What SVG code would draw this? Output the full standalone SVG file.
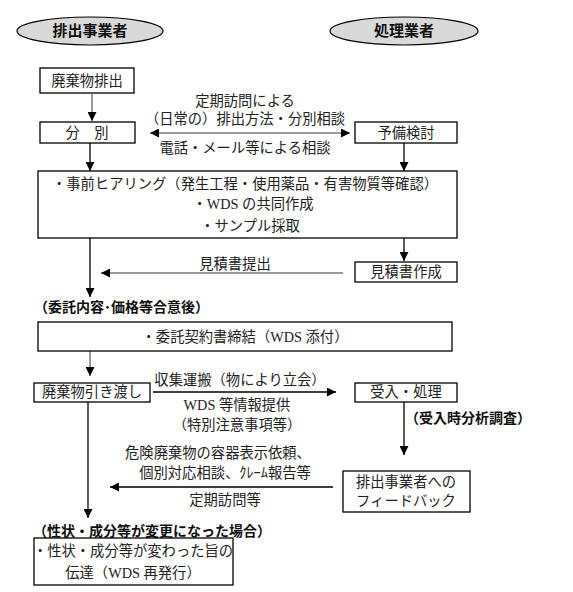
<svg xmlns="http://www.w3.org/2000/svg" width="573" height="592" viewBox="0 0 573 592">
<style>
.bg{fill:#fff}
.box{fill:#fff;stroke:#000;stroke-width:1.3}
.ell{fill:#d9d9d9;stroke:#000;stroke-width:1.2}
.t{font-family:"Liberation Serif","Noto Sans CJK JP",serif;font-size:14.3px;fill:#222}
.c{text-anchor:middle}
.b{font-family:"Liberation Sans","Noto Sans CJK JP",sans-serif;font-weight:bold;font-size:14px;fill:#111}
.h{font-family:"Liberation Sans","Noto Sans CJK JP",sans-serif;font-weight:bold;font-size:15px;fill:#111;text-anchor:middle}
.k{stroke:#000;stroke-width:1.3;fill:none}
.g{stroke:#9a9a9a;stroke-width:2;fill:none}
</style>
<defs>
<marker id="ah" viewBox="0 0 10 10" refX="10" refY="5" markerWidth="9" markerHeight="9" markerUnits="userSpaceOnUse" orient="auto-start-reverse">
<path d="M0,0 L10,5 L0,10 z" fill="#000"/>
</marker>
</defs>
<rect class="bg" width="573" height="592"/>
<g id="connectors">
<line class="g" x1="92" y1="94" x2="92" y2="121" marker-end="url(#ah)"/>
<line class="g" x1="150" y1="133" x2="350" y2="133" marker-start="url(#ah)" marker-end="url(#ah)"/>
<line class="k" x1="90" y1="143" x2="90" y2="171" marker-end="url(#ah)"/>
<line class="k" x1="404" y1="143" x2="404" y2="171" marker-end="url(#ah)"/>
<line class="k" x1="404" y1="238" x2="404" y2="261" marker-end="url(#ah)"/>
<line class="g" x1="343" y1="273" x2="101" y2="273" marker-end="url(#ah)"/>
<line class="k" x1="90" y1="238" x2="90" y2="297" marker-end="url(#ah)"/>
<line class="g" x1="90" y1="351" x2="90" y2="376" marker-end="url(#ah)"/>
<line class="k" x1="153" y1="392" x2="336" y2="392" marker-end="url(#ah)"/>
<line class="k" x1="404" y1="402" x2="404" y2="455" marker-end="url(#ah)"/>
<line class="k" x1="333" y1="487" x2="110" y2="487" marker-end="url(#ah)"/>
<line class="k" x1="88" y1="402" x2="88" y2="518" marker-end="url(#ah)"/>
<text class="t c" x="245" y="106">定期訪問による</text>
<text class="t c" x="245" y="124">（日常の）排出方法・分別相談</text>
<text class="t c" x="245" y="153">電話・メール等による相談</text>
<text class="t c" x="235" y="269">見積書提出</text>
<text class="t c" x="240" y="385">収集運搬（物により立会）</text>
<text class="t c" x="237" y="410">WDS 等情報提供</text>
<text class="t c" x="237" y="430">（特別注意事項等）</text>
<text class="b" x="405" y="423">（受入時分析調査）</text>
<text class="t c" x="218" y="458">危険廃棄物の容器表示依頼、</text>
<text class="t c" x="225" y="478">個別対応相談、ｸﾚｰﾑ報告等</text>
<text class="t c" x="225" y="505">定期訪問等</text>
<text class="b" x="34" y="312">（委託内容･価格等合意後）</text>
<text class="b" x="33" y="536">（性状・成分等が変更になった場合）</text>
</g>
<g id="n-haishutsu">
<ellipse class="ell" cx="90" cy="31" rx="73" ry="14"/>
<text class="h" x="90" y="36">排出事業者</text>
</g>
<g id="n-shori">
<ellipse class="ell" cx="404" cy="31" rx="74" ry="14"/>
<text class="h" x="404" y="36">処理業者</text>
</g>
<g id="n-haikibutsu">
<rect class="box" x="40" y="68" width="94" height="25"/>
<text class="t c" x="87" y="86">廃棄物排出</text>
</g>
<g id="n-bunbetsu">
<rect class="box" x="40" y="122" width="95" height="21"/>
<text class="t c" x="87" y="138">分　別</text>
</g>
<g id="n-yobi">
<rect class="box" x="355" y="122" width="102" height="21"/>
<text class="t c" x="406" y="138">予備検討</text>
</g>
<g id="n-jizen">
<rect class="box" x="38" y="171" width="419" height="67"/>
<text class="t c" x="245" y="189">・事前ヒアリング（発生工程・使用薬品・有害物質等確認）</text>
<text class="t c" x="253" y="209">・WDS の共同作成</text>
<text class="t c" x="250" y="231">・サンプル採取</text>
</g>
<g id="n-mitsumori">
<rect class="box" x="355" y="262" width="102" height="20"/>
<text class="t c" x="406" y="277">見積書作成</text>
</g>
<g id="n-keiyaku">
<rect class="box" x="38" y="322" width="414" height="29"/>
<text class="t c" x="245" y="342">・委託契約書締結（WDS 添付）</text>
</g>
<g id="n-hikiwatashi">
<rect class="box" x="34" y="383" width="116" height="19"/>
<text class="t c" x="92" y="397">廃棄物引き渡し</text>
</g>
<g id="n-ukeire">
<rect class="box" x="355" y="383" width="102" height="19"/>
<text class="t c" x="406" y="397">受入・処理</text>
</g>
<g id="n-feedback">
<rect class="box" x="343" y="471" width="127" height="41"/>
<text class="t c" x="406" y="487">排出事業者への</text>
<text class="t c" x="406" y="506">フィードバック</text>
</g>
<g id="n-dentatsu">
<rect class="box" x="34" y="538" width="199" height="47"/>
<text class="t c" x="133" y="556">・性状・成分等が変わった旨の</text>
<text class="t c" x="133" y="578">伝達（WDS 再発行）</text>
</g>
</svg>
